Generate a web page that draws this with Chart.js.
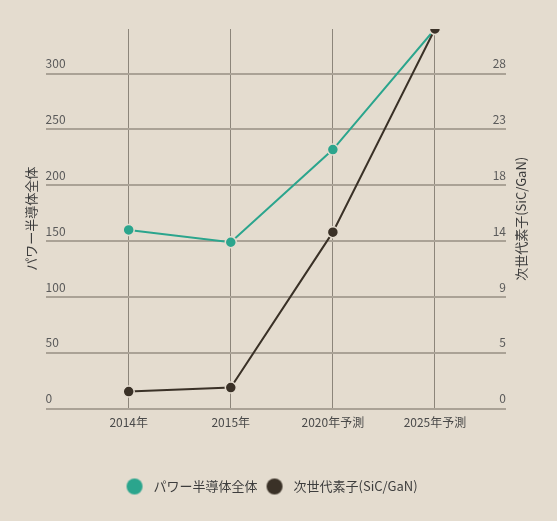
<!DOCTYPE html>
<html>
<head>
<meta charset="utf-8">
<script src="https://cdn.jsdelivr.net/npm/chart.js@4/dist/chart.umd.min.js"></script>
<style>
  html, body { margin: 0; padding: 0; background: #e4dccf; }
  #wrap { width: 557px; height: 521px; }
</style>
</head>
<body>
<div id="wrap"><canvas id="chart" width="557" height="521"></canvas></div>
<script>
// データ
const categories = ['2014年', '2015年', '2020年予測', '2025年予測'];
const powerTotal = [160, 149, 232, 340];      // 左軸
const nextGen    = [1.4, 1.73, 14.55, 31.3];  // 右軸
const leftTicks  = [0, 50, 100, 150, 200, 250, 300];
const leftMax    = 340;
const rightMax   = 31.3;

const BG    = '#e4dccf';
const GREEN = '#2ba58d';
const DARK  = '#3a3127';
const FONT  = "'Noto Sans CJK JP', 'Noto Sans', sans-serif";

const toPoints = vals => vals.map((v, i) => ({ x: i, y: v }));

// 凡例の丸（文字との間隔を広げるため左寄せで描く）
function legendDot(color) {
  const c = document.createElement('canvas');
  c.width = 30; c.height = 18;
  const g = c.getContext('2d');
  g.fillStyle = color;
  g.beginPath();
  g.arc(9, 9, 8, 0, Math.PI * 2);
  g.fill();
  return c;
}

// 右軸タイトル（下から上へ読む向き）
const rightTitle = {
  id: 'rightTitle',
  afterDraw(chart) {
    const { ctx, chartArea } = chart;
    ctx.save();
    ctx.translate(521, (chartArea.top + chartArea.bottom) / 2);
    ctx.rotate(-Math.PI / 2);
    ctx.font = '13px ' + FONT;
    ctx.fillStyle = '#3d3d3d';
    ctx.textAlign = 'center';
    ctx.textBaseline = 'middle';
    ctx.fillText('次世代素子(SiC/GaN)', 0, 0);
    ctx.restore();
  },
};

new Chart(document.getElementById('chart'), {
  type: 'line',
  data: {
    datasets: [
      {
        label: 'パワー半導体全体',
        data: toPoints(powerTotal),
        yAxisID: 'y',
        order: 1,
        borderColor: GREEN,
        backgroundColor: GREEN,
        pointBackgroundColor: GREEN,
        pointBorderColor: BG,
        pointBorderWidth: 1.5,
        pointRadius: 5.5,
        borderWidth: 2,
        tension: 0,
      },
      {
        label: '次世代素子(SiC/GaN)',
        data: toPoints(nextGen),
        yAxisID: 'y1',
        order: 0,
        borderColor: DARK,
        backgroundColor: DARK,
        pointBackgroundColor: DARK,
        pointBorderColor: BG,
        pointBorderWidth: 1.5,
        pointRadius: 5.5,
        borderWidth: 2,
        tension: 0,
      },
    ],
  },
  options: {
    responsive: false,
    animation: false,
    layout: { padding: { top: 29, left: 19, right: 51, bottom: 18 } },
    plugins: {
      tooltip: { enabled: false },
      legend: {
        position: 'bottom',
        fullSize: false,
        labels: {
          usePointStyle: true,
          boxHeight: 11.3,
          padding: 16.5,
          color: '#3d3d3d',
          font: { family: FONT, size: 13 },
          generateLabels(chart) {
            return chart.data.datasets.map((ds, i) => ({
              text: ds.label,
              fillStyle: ds.pointBackgroundColor,
              strokeStyle: ds.pointBackgroundColor,
              lineWidth: 0,
              pointStyle: legendDot(ds.pointBackgroundColor),
              datasetIndex: i,
              fontColor: '#3d3d3d',
            }));
          },
        },
      },
    },
    scales: {
      x: {
        type: 'linear',
        min: -0.814,
        max: 3.696,
        afterBuildTicks: axis => { axis.ticks = categories.map((c, i) => ({ value: i })); },
        afterFit: axis => { axis.height += 26.5; },
        grid: { color: '#8c857a', lineWidth: 1, drawTicks: false },
        border: { display: false },
        ticks: {
          padding: 7,
          color: '#4a4a4a',
          font: { family: FONT, size: 12 },
          callback: v => categories[v],
        },
      },
      y: {
        position: 'left',
        min: 0,
        max: leftMax,
        afterBuildTicks: axis => { axis.ticks = leftTicks.map(v => ({ value: v })); },
        grid: { color: '#aaa296', lineWidth: 2, drawTicks: false },
        border: { display: false },
        ticks: {
          mirror: true,
          padding: 0,
          labelOffset: -10,
          color: '#5a5a5a',
          font: { family: FONT, size: 12 },
        },
        title: {
          display: true,
          text: 'パワー半導体全体',
          color: '#3d3d3d',
          font: { family: FONT, size: 13 },
          padding: { top: 4, bottom: 7 },
        },
      },
      y1: {
        position: 'right',
        min: 0,
        max: rightMax,
        afterBuildTicks: axis => {
          axis.ticks = leftTicks.map(v => ({ value: v * rightMax / leftMax }));
        },
        grid: { display: false, drawTicks: false },
        border: { display: false },
        ticks: {
          mirror: true,
          padding: 0,
          labelOffset: -10,
          color: '#5a5a5a',
          font: { family: FONT, size: 12 },
          callback: v => Math.round(v),
        },
      },
    },
  },
  plugins: [rightTitle],
});
</script>
</body>
</html>
